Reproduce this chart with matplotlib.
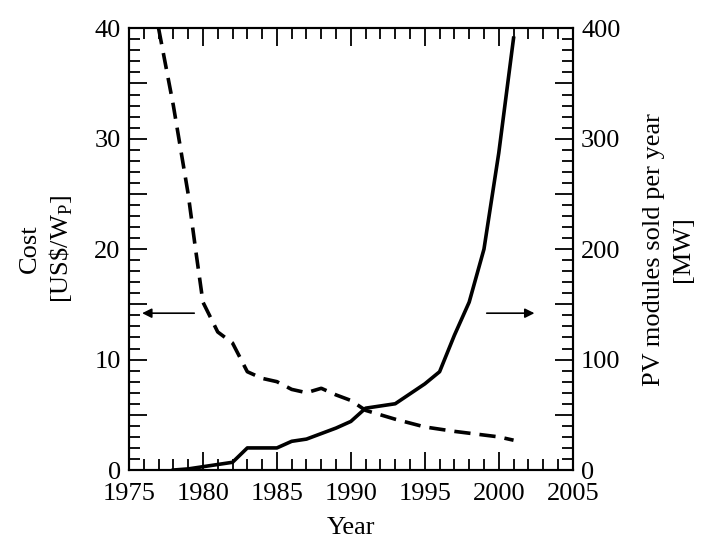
import matplotlib.pyplot as plt
from matplotlib.ticker import MultipleLocator

# Cost of PV modules (US$/Wp), left axis
cost_years = [1977, 1978, 1979, 1979.5, 1980, 1981, 1982, 1983, 1984, 1985, 1986,
              1987, 1988, 1989, 1990, 1991, 1992, 1993, 1995, 1997, 2000, 2001]
cost_vals = [40, 33, 25, 20, 15.2, 12.5, 11.5, 8.9, 8.3, 8.0, 7.3,
             7.0, 7.4, 6.8, 6.3, 5.4, 5.0, 4.6, 3.9, 3.5, 3.0, 2.7]

# PV modules sold per year (MW), right axis
mw_years = [1978, 1979, 1980, 1981, 1982, 1983, 1984, 1985, 1986, 1987, 1988,
            1989, 1990, 1991, 1992, 1993, 1994, 1995, 1996, 1997, 1998, 1999,
            2000, 2001]
mw_vals = [0, 1, 3, 5, 7, 20, 20, 20, 26, 28, 33,
           38, 44, 56, 58, 60, 69, 78, 89, 122, 152, 200,
           287, 391]

plt.rcParams['font.family'] = ['Liberation Serif', 'DejaVu Serif']
plt.rcParams['mathtext.fontset'] = 'custom'
plt.rcParams['mathtext.rm'] = 'Liberation Serif'

fig = plt.figure(figsize=(7.01, 5.43), dpi=100)
ax = fig.add_axes([0.184, 0.1344, 0.633, 0.8136])
ax2 = ax.twinx()

ax.plot(cost_years, cost_vals, color='black', lw=2.6, ls=(0, (4.5, 2.5)))
ax2.plot(mw_years, mw_vals, color='black', lw=2.6)

ax.set_xlim(1975, 2005)
ax.set_ylim(0, 40)
ax2.set_ylim(0, 400)

ax.xaxis.set_major_locator(MultipleLocator(5))
ax.xaxis.set_minor_locator(MultipleLocator(1))
ax.yaxis.set_major_locator(MultipleLocator(5))
ax.yaxis.set_minor_locator(MultipleLocator(1))
ax2.yaxis.set_major_locator(MultipleLocator(50))
ax2.yaxis.set_minor_locator(MultipleLocator(10))

ax.yaxis.set_major_formatter(lambda v, p: f"{v:.0f}" if v % 10 == 0 else "")
ax2.yaxis.set_major_formatter(lambda v, p: f"{v:.0f}" if v % 100 == 0 else "")

for a in (ax, ax2):
    for s in a.spines.values():
        s.set_linewidth(1.5)
ax.tick_params(which='both', direction='in', top=True, labelsize=19, width=1.3)
ax.tick_params(which='major', length=13, pad=6)
ax.tick_params(axis='x', which='major', pad=9)
ax.tick_params(which='minor', length=8)
ax2.tick_params(which='both', direction='in', labelsize=19, width=1.3)
ax2.tick_params(which='major', length=13, pad=6)
ax2.tick_params(which='minor', length=8)

ax.set_xlabel("Year", fontsize=19, labelpad=9)
ax.set_ylabel("Cost\n[US\\$/W$_\\mathrm{P}$]", fontsize=19, labelpad=14,
              linespacing=1.3)
ax2.set_ylabel("PV modules sold per year\n[MW]", fontsize=19, labelpad=16,
               linespacing=1.45)

ax.annotate("", xy=(1975.7, 14.2), xytext=(1979.6, 14.2),
            arrowprops=dict(arrowstyle='-|>', color='black', lw=1.2,
                            mutation_scale=14))
ax.annotate("", xy=(2002.6, 14.2), xytext=(1999.0, 14.2),
            arrowprops=dict(arrowstyle='-|>', color='black', lw=1.2,
                            mutation_scale=14))

fig.savefig("out.png", dpi=100)
